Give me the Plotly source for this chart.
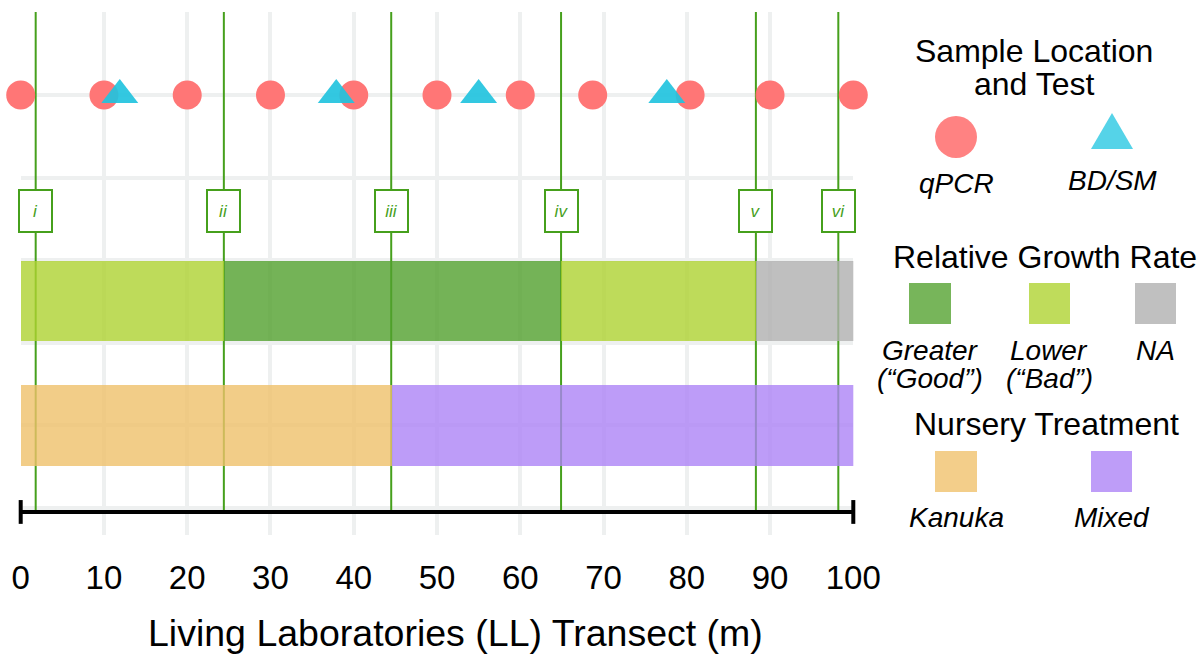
import plotly.graph_objects as go

# ---------------- data ----------------
x_ticks = [0, 10, 20, 30, 40, 50, 60, 70, 80, 90, 100]
qpcr_x = [0, 10, 20, 30, 40, 50, 60, 68.7, 80.4, 90, 100]
bdsm_x = [11.9, 37.9, 55.0, 77.6]
site_labels = ["i", "ii", "iii", "iv", "v", "vi"]
site_x = [1.8, 24.4, 44.5, 64.9, 88.3, 98.2]
growth_start = [0, 24.4, 64.9, 88.3]
growth_end = [24.4, 64.9, 88.3, 100]
growth_class = ["Lower", "Greater", "Lower", "NA"]
treat_start = [0, 44.5]
treat_end = [44.5, 100]
treat_class = ["Kanuka", "Mixed"]

# ---------------- styles ----------------
W, H = 1204, 660
FONT = "Liberation Sans, Arial, Helvetica, sans-serif"
GREEN = "#46A01C"
GRID = "#EEF0F0"
growth_colors = {"Greater": "rgba(81,160,45,0.8)", "Lower": "rgba(174,210,49,0.8)",
                 "NA": "rgba(175,175,175,0.8)"}
treat_colors = {"Kanuka": "rgba(239,193,106,0.8)", "Mixed": "rgba(172,131,246,0.8)"}

ROW_POINTS, ROW_LABEL, ROW_GROWTH, ROW_TREAT, ROW_SCALE = 6, 4.6, 3.51, 2.0, 0.952
Y_RANGE = [0.673, 7.005]

fig = go.Figure()

# growth bar
fig.add_trace(go.Bar(
    orientation="h", y=[ROW_GROWTH] * len(growth_start),
    x=[e - s for s, e in zip(growth_start, growth_end)], base=growth_start,
    width=0.97, marker=dict(color=[growth_colors[c] for c in growth_class], line=dict(width=0)),
    showlegend=False, hoverinfo="skip"))
# treatment bar
fig.add_trace(go.Bar(
    orientation="h", y=[ROW_TREAT] * len(treat_start),
    x=[e - s for s, e in zip(treat_start, treat_end)], base=treat_start,
    width=0.98, marker=dict(color=[treat_colors[c] for c in treat_class], line=dict(width=0)),
    showlegend=False, hoverinfo="skip"))

# scale bar
fig.add_trace(go.Scatter(
    x=[x_ticks[0], x_ticks[-1]], y=[ROW_SCALE, ROW_SCALE], mode="lines+markers",
    line=dict(color="black", width=4),
    marker=dict(symbol="line-ns", size=17, line=dict(width=4, color="black")),
    cliponaxis=False, showlegend=False, hoverinfo="skip"))

# sample points
fig.add_trace(go.Scatter(
    x=qpcr_x, y=[ROW_POINTS] * len(qpcr_x), mode="markers",
    marker=dict(symbol="circle", size=29, color="#FF6F6F", opacity=0.95, line=dict(width=0)),
    cliponaxis=False, showlegend=False))
fig.add_trace(go.Scatter(
    x=bdsm_x, y=[ROW_POINTS] * len(bdsm_x), mode="markers",
    marker=dict(symbol="triangle-up", size=32, color="#22C3DE", opacity=0.92, line=dict(width=0)),
    cliponaxis=False, showlegend=False))

shapes = []
annotations = []
# site lines + labels
for lab, sx in zip(site_labels, site_x):
    shapes.append(dict(type="line", xref="x", yref="y", x0=sx, x1=sx,
                       y0=ROW_SCALE, y1=Y_RANGE[1], layer="between",
                       line=dict(color=GREEN, width=2)))
    annotations.append(dict(x=sx, y=ROW_LABEL, xref="x", yref="y", text=f"<i>{lab}</i>",
                            showarrow=False, font=dict(family=FONT, size=17, color=GREEN),
                            bgcolor="white", bordercolor=GREEN, borderwidth=2, borderpad=1,
                            width=29, height=38, align="center", valign="middle"))

# axis title
annotations.append(dict(x=455 / W, y=1 - 633 / H, xref="paper", yref="paper",
                        text="Living Laboratories (LL) Transect (m)", showarrow=False,
                        xanchor="center", yanchor="middle",
                        font=dict(family=FONT, size=37.5, color="black")))

# ---------------- custom legend (paper coords from pixels) ----------------
def px(x):
    return x / W

def py(y):
    return 1 - y / H

def text(x, y, s, size, italic=False):
    annotations.append(dict(x=px(x), y=py(y), xref="paper", yref="paper",
                            text=f"<i>{s}</i>" if italic else s, showarrow=False,
                            xanchor="center", yanchor="middle",
                            font=dict(family=FONT, size=size, color="black")))

def rect(x0, x1, y0, y1, color):
    shapes.append(dict(type="rect", xref="paper", yref="paper", x0=px(x0), x1=px(x1),
                       y0=py(y1), y1=py(y0), fillcolor=color, line=dict(width=0)))

text(1034, 51, "Sample Location", 32)
text(1034, 84, "and Test", 32)
shapes.append(dict(type="circle", xref="paper", yref="paper", x0=px(935), x1=px(977),
                   y0=py(158), y1=py(116), fillcolor="#FF8282", line=dict(width=0)))
shapes.append(dict(type="path", xref="paper", yref="paper",
                   path=f"M {px(1112)} {py(113)} L {px(1133)} {py(149)} L {px(1091)} {py(149)} Z",
                   fillcolor="#55D3E8", line=dict(width=0)))
text(956, 183, "qPCR", 28, True)
text(1112, 181, "BD/SM", 28, True)

text(1045, 257, "Relative Growth Rate", 32)
rect(909, 951, 283, 324, "#77B55A")
rect(1029, 1070, 283, 324, "#BFDC5B")
rect(1135, 1176, 283, 324, "#C0C0C0")
text(930, 350, "Greater", 28, True)
text(930, 378, "(“Good”)", 28, True)
text(1049, 350, "Lower", 28, True)
text(1049, 378, "(“Bad”)", 28, True)
text(1155, 350, "NA", 28, True)

text(1046, 424, "Nursery Treatment", 32)
rect(935, 977, 451, 492, "#F3CE8A")
rect(1091, 1132, 451, 492, "#BE9DF8")
text(956, 517, "Kanuka", 28, True)
text(1112, 517, "Mixed", 28, True)

fig.update_layout(
    width=W, height=H, margin=dict(l=0, r=0, t=0, b=0, pad=0, autoexpand=False),
    paper_bgcolor="white", plot_bgcolor="white",
    barmode="overlay", bargap=0,
    shapes=shapes, annotations=annotations,
    xaxis=dict(domain=[20.7 / W, 853.3 / W], range=[0, 100], tickvals=x_ticks,
               ticktext=[str(v) for v in x_ticks], showgrid=True, gridcolor=GRID, gridwidth=4,
               zeroline=False, showline=False, ticks="", ticklabelstandoff=20, automargin=False,
               tickfont=dict(family=FONT, size=33, color="black")),
    yaxis=dict(domain=[1 - 535 / H, 1 - 12 / H], range=Y_RANGE, tickvals=[1, 2, 3, 4, 5, 6],
               showticklabels=False, showgrid=True, gridcolor=GRID, gridwidth=4,
               zeroline=False, showline=False, ticks="", automargin=False),
    font=dict(family=FONT),
)

fig.write_html("out.html", config={"displayModeBar": False},
               post_script="document.body.style.margin='0px';")
